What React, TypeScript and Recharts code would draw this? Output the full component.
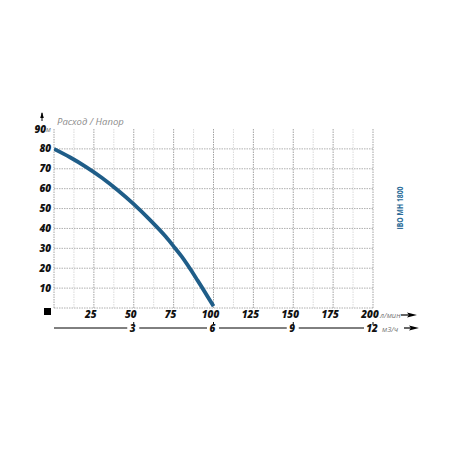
import React from 'react';
import { LineChart, Line, XAxis, YAxis, ReferenceLine } from 'recharts';

// flow (л/мин) vs head (м)
const flow = [0, 10, 20, 30, 40, 50, 60, 70, 75, 80, 90, 100];
const head = [80, 75.8, 71, 65.5, 59.2, 52.2, 44.4, 35.9, 31, 25.9, 13.9, 0.9];

const flowTicks = [25, 50, 75, 100, 125, 150, 175, 200];
// м3/ч ticks sit at these л/мин positions (1 л/мин = 0.06 м3/ч)
const m3TickFlows = [50, 100, 150, 200];
const headTicks = [0, 10, 20, 30, 40, 50, 60, 70, 80, 90];
const gridY = [0, 10, 20, 30, 40, 50, 60, 70, 80];
const majorX = [0, 25, 50, 75, 100, 125, 150, 175, 200];
const minorX = [12.5, 37.5, 62.5, 87.5, 112.5, 137.5, 162.5, 187.5];

const data = flow.map((q, i) => ({ q, h: head[i] }));

const NUM_FONT = { fontFamily: '"Open Sans", sans-serif', fontStyle: 'italic', fontWeight: 800, fontSize: 10, fill: '#111' } as const;
const UNIT_FONT = { fontFamily: '"Open Sans", sans-serif', fontStyle: 'italic', fontSize: 7.5, fill: '#777' } as const;
const BLUE = '#1f5d88';

const HeadTick = ({ x, y, payload }: any) => {
  const v = payload.value;
  if (v === 0) {
    return <rect x={x - 7} y={y} width={7} height={7} fill="#000" />;
  }
  if (v === 90) {
    return (
      <g>
        <line x1={x - 9} y1={y - 16} x2={x - 9} y2={y - 8} stroke="#000" strokeWidth={1} />
        <polygon points={`${x - 9},${y - 17} ${x - 10.8},${y - 11} ${x - 7.2},${y - 11}`} fill="#000" />
        <text x={x - 5} y={y} dy="0.35em" textAnchor="end" style={NUM_FONT}>90</text>
        <text x={x - 5} y={y} dy="0.4em" style={{ ...UNIT_FONT, fontSize: 7 }}>м</text>
      </g>
    );
  }
  return (
    <text x={x} y={y} dy="0.35em" textAnchor="end" style={NUM_FONT}>{v}</text>
  );
};

const FlowTick = ({ x, y, payload }: any) => {
  const v = payload.value;
  return (
    <g>
      <text x={x - 3} y={y + 10} textAnchor="middle" style={NUM_FONT}>{v}</text>
      {v === 200 && (
        <g>
          <text x={x + 7} y={y + 10} style={UNIT_FONT}>л/мин</text>
          <line x1={x + 28} y1={y + 7} x2={x + 38} y2={y + 7} stroke="#000" strokeWidth={1.2} />
          <polygon points={`${x + 44},${y + 7} ${x + 34},${y + 4.5} ${x + 36},${y + 7} ${x + 34},${y + 9.5}`} fill="#000" />
        </g>
      )}
    </g>
  );
};

const M3Tick = ({ x, y, payload }: any) => {
  const v = Math.round(payload.value * 0.06);
  const w = v >= 10 ? 14 : 9;
  return (
    <g>
      <rect x={x - w / 2 - 2} y={y - 4} width={w + 3} height={8} fill="#fff" />
      <line x1={x} y1={y - 6} x2={x} y2={y - 3} stroke="#000" strokeWidth={1} />
      <text x={x - 1} y={y + 4} textAnchor="middle" style={NUM_FONT}>{v}</text>
      {v === 12 && (
        <g>
          <text x={x + 9} y={y + 3.5} style={UNIT_FONT}>м3/ч</text>
          <line x1={x + 31} y1={y} x2={x + 41} y2={y} stroke="#000" strokeWidth={1.2} />
          <polygon points={`${x + 46},${y} ${x + 36},${y - 2.5} ${x + 38},${y} ${x + 36},${y + 2.5}`} fill="#000" />
        </g>
      )}
    </g>
  );
};

export default function App() {
  return (
    <div style={{ position: 'absolute', left: 0, top: 0, width: 450, height: 450, background: '#fff' }}>
      <LineChart width={450} height={450} data={data} margin={{ top: 129, right: 77, left: 34, bottom: 102 }}>
        <XAxis
          xAxisId="b"
          dataKey="q"
          type="number"
          domain={[0, 200]}
          allowDataOverflow
          ticks={m3TickFlows}
          height={20}
          axisLine={{ stroke: '#000', strokeWidth: 1 }}
          tickLine={false}
          tickSize={0}
          tickMargin={0}
          tick={<M3Tick />}
          interval={0}
        />
        <XAxis
          xAxisId="a"
          dataKey="q"
          type="number"
          domain={[0, 200]}
          allowDataOverflow
          ticks={flowTicks}
          height={20}
          axisLine={false}
          tickLine={false}
          tickSize={0}
          tickMargin={0}
          tick={<FlowTick />}
          interval={0}
        />
        <YAxis
          type="number"
          domain={[0, 90]}
          ticks={headTicks}
          width={20}
          axisLine={false}
          tickLine={false}
          tickSize={0}
          tickMargin={3}
          tick={<HeadTick />}
          interval={0}
        />
        {gridY.map((v) => (
          <ReferenceLine key={`gy-${v}`} xAxisId="a" y={v} stroke="#9a9a9a" strokeWidth={0.8} strokeDasharray="1.5 1" />
        ))}
        {minorX.map((v) => (
          <ReferenceLine key={`mx-${v}`} xAxisId="a" x={v} stroke="#d0d0d0" strokeWidth={0.8} strokeDasharray="1.5 1" />
        ))}
        {majorX.map((v) => (
          <ReferenceLine key={`gx-${v}`} xAxisId="a" x={v} stroke="#8a8a8a" strokeWidth={0.8} strokeDasharray="1.5 1" />
        ))}
        <Line
          xAxisId="a"
          type="monotone"
          dataKey="h"
          stroke={BLUE}
          strokeWidth={3.8}
          dot={false}
          isAnimationActive={false}
        />
      </LineChart>
      <svg width={450} height={450} style={{ position: 'absolute', left: 0, top: 0, pointerEvents: 'none' }}>
        <text x={57} y={125} style={{ fontFamily: '"Open Sans", sans-serif', fontStyle: 'italic', fontSize: 9.5, fill: '#8c8c8c' }}>
          Расход / Напор
        </text>
        <text
          x={0}
          y={0}
          transform="translate(403 208) rotate(-90)"
          textAnchor="middle"
          textLength={43}
          lengthAdjust="spacingAndGlyphs"
          style={{ fontFamily: '"Open Sans", sans-serif', fontWeight: 700, fontSize: 9, fill: '#2a6b98' }}
        >
          IBO MH 1800
        </text>
      </svg>
    </div>
  );
}
